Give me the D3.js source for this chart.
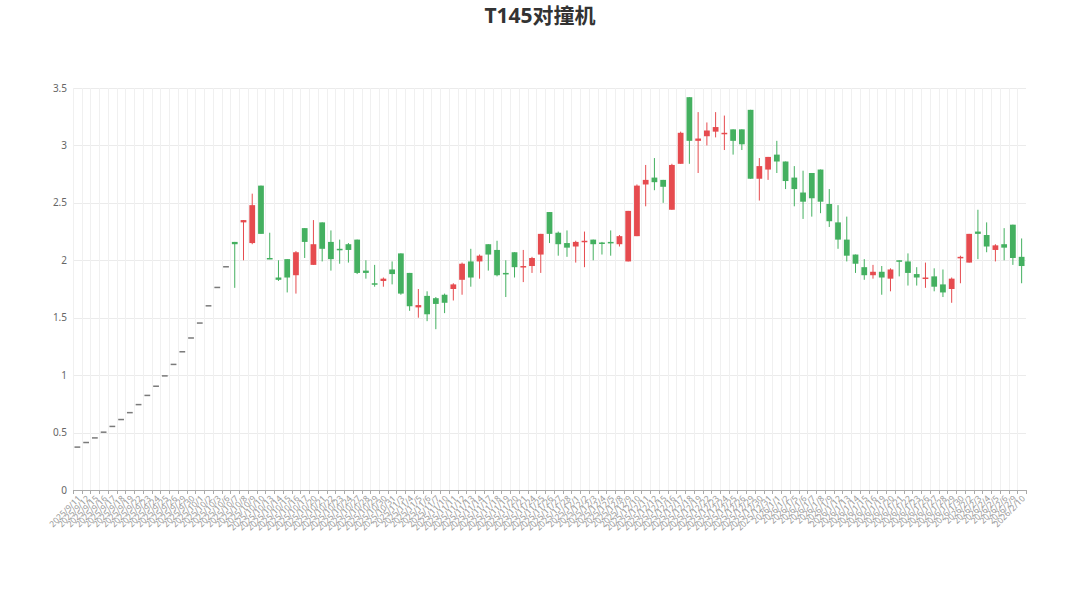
<!DOCTYPE html>
<meta charset="utf-8">
<script src="https://d3js.org/d3.v7.min.js"></script>
<style>
  body { margin: 0; background: #fff; }
  text { font-family: "Noto Sans", "Noto Sans CJK SC", sans-serif; }
</style>
<body>
<div id="chart"></div>
<script>

// trading days shown on the category axis
var dates = [
  "2025/9/11","2025/9/12","2025/9/15","2025/9/16","2025/9/17","2025/9/18","2025/9/19","2025/9/22","2025/9/23","2025/9/24",
  "2025/9/25","2025/9/26","2025/9/29","2025/9/30","2025/10/1","2025/10/2","2025/10/3","2025/10/6","2025/10/7","2025/10/8",
  "2025/10/9","2025/10/10","2025/10/13","2025/10/14","2025/10/15","2025/10/16","2025/10/17","2025/10/20","2025/10/21","2025/10/22",
  "2025/10/23","2025/10/24","2025/10/27","2025/10/28","2025/10/29","2025/10/30","2025/10/31","2025/11/3","2025/11/4","2025/11/5",
  "2025/11/6","2025/11/7","2025/11/10","2025/11/11","2025/11/12","2025/11/13","2025/11/14","2025/11/17","2025/11/18","2025/11/19",
  "2025/11/20","2025/11/21","2025/11/24","2025/11/25","2025/11/26","2025/11/27","2025/11/28","2025/12/1","2025/12/2","2025/12/3",
  "2025/12/4","2025/12/5","2025/12/8","2025/12/9","2025/12/10","2025/12/11","2025/12/12","2025/12/15","2025/12/16","2025/12/17",
  "2025/12/18","2025/12/19","2025/12/22","2025/12/23","2025/12/24","2025/12/25","2025/12/26","2025/12/29","2025/12/30","2025/12/31",
  "2026/1/1","2026/1/2","2026/1/5","2026/1/6","2026/1/7","2026/1/8","2026/1/9","2026/1/12","2026/1/13","2026/1/14",
  "2026/1/15","2026/1/16","2026/1/19","2026/1/20","2026/1/21","2026/1/22","2026/1/23","2026/1/26","2026/1/27","2026/1/28",
  "2026/1/29","2026/1/30","2026/2/2","2026/2/3","2026/2/4","2026/2/5","2026/2/6","2026/2/9","2026/2/10"
]

var opens = [
  0.38,0.42,0.46,0.51,0.56,0.62,0.68,0.75,0.83,0.91,
  1.00,1.10,1.21,1.33,1.46,1.61,1.77,1.95,2.16,2.33,
  2.15,2.65,2.02,1.85,2.01,1.87,2.28,1.96,2.33,2.16,
  2.10,2.14,2.18,1.91,1.80,1.82,1.92,2.06,1.89,1.59,
  1.69,1.67,1.70,1.75,1.83,1.99,1.99,2.14,2.09,1.89,
  2.07,1.94,1.95,2.05,2.42,2.24,2.15,2.12,2.16,2.18,
  2.155,2.16,2.14,1.99,2.21,2.66,2.72,2.70,2.44,2.84,
  3.42,3.04,3.08,3.12,3.10,3.14,3.14,3.31,2.71,2.79,
  2.92,2.86,2.72,2.59,2.76,2.79,2.49,2.33,2.18,2.05,
  1.94,1.87,1.90,1.84,2.00,1.99,1.88,1.84,1.86,1.79,
  1.75,2.02,1.98,2.25,2.22,2.09,2.14,2.31,2.03
]

var closes = [
  0.38,0.42,0.46,0.51,0.56,0.62,0.68,0.75,0.83,0.91,
  1.00,1.10,1.21,1.33,1.46,1.61,1.77,1.95,2.14,2.35,
  2.48,2.23,2.01,1.83,1.85,2.07,2.16,2.14,2.10,2.01,
  2.09,2.09,1.89,1.89,1.79,1.84,1.88,1.71,1.60,1.61,
  1.53,1.62,1.63,1.79,1.97,1.85,2.04,2.05,1.87,1.88,
  1.94,1.95,2.02,2.23,2.23,2.14,2.11,2.16,2.17,2.14,
  2.145,2.15,2.21,2.43,2.65,2.70,2.68,2.64,2.83,3.11,
  3.04,3.06,3.13,3.16,3.11,3.04,3.01,2.71,2.82,2.90,
  2.86,2.69,2.62,2.51,2.54,2.51,2.34,2.18,2.04,1.97,
  1.87,1.90,1.85,1.92,1.99,1.89,1.85,1.85,1.77,1.72,
  1.84,2.03,2.23,2.23,2.12,2.13,2.11,2.02,1.95
]

var lows = [
  0.38,0.42,0.46,0.51,0.56,0.62,0.68,0.75,0.83,0.91,
  1.00,1.10,1.21,1.33,1.46,1.61,1.77,1.95,1.76,2.00,
  2.14,2.23,2.01,1.82,1.72,1.71,2.02,1.96,1.99,1.91,
  1.97,1.98,1.88,1.84,1.77,1.77,1.79,1.70,1.56,1.50,
  1.47,1.40,1.54,1.65,1.70,1.77,1.84,1.91,1.86,1.68,
  1.85,1.81,1.89,1.89,2.15,2.04,2.03,1.98,1.94,2.00,
  2.05,2.04,2.12,1.99,2.21,2.47,2.61,2.50,2.44,2.84,
  2.84,2.76,3.00,3.07,2.96,2.92,2.96,2.71,2.52,2.70,
  2.76,2.62,2.47,2.36,2.38,2.41,2.29,2.10,1.99,1.89,
  1.83,1.84,1.70,1.73,1.86,1.78,1.78,1.76,1.73,1.68,
  1.63,1.80,1.98,2.01,2.07,1.99,2.00,1.96,1.80
]

var highs = [
  0.38,0.42,0.46,0.51,0.56,0.62,0.68,0.75,0.83,0.91,
  1.00,1.10,1.21,1.33,1.46,1.61,1.77,1.95,2.16,2.35,
  2.58,2.65,2.24,2.00,2.01,2.08,2.28,2.35,2.33,2.26,
  2.18,2.15,2.18,2.00,1.96,1.85,1.99,2.06,1.89,1.75,
  1.73,1.68,1.71,1.80,1.98,2.10,2.05,2.14,2.17,2.00,
  2.07,2.09,2.03,2.23,2.42,2.25,2.26,2.17,2.25,2.18,
  2.16,2.26,2.22,2.43,2.66,2.83,2.89,2.70,2.84,3.12,
  3.42,3.29,3.20,3.29,3.26,3.14,3.14,3.31,2.89,2.90,
  3.04,2.86,2.82,2.78,2.76,2.79,2.62,2.48,2.38,2.05,
  2.01,1.96,1.95,1.93,2.00,2.06,1.94,1.98,1.93,1.92,
  1.85,2.04,2.23,2.44,2.33,2.14,2.28,2.31,2.19
]

var yTicks = [0, 0.5, 1, 1.5, 2, 2.5, 3, 3.5]

var width = 1080, height = 596
var plotLeft = 73, plotRight = 1026, plotTop = 88, plotBottom = 490
var upColor = "#e64b4f", downColor = "#44b060", flatColor = "#7a7a7a"

var svg = d3.select("#chart").append("svg")
  .attr("width", width)
  .attr("height", height)

var x = d3.scaleBand().domain(dates).range([plotLeft, plotRight]).padding(0)
var y = d3.scaleLinear().domain([0, 3.5]).range([plotBottom, plotTop])

// title
svg.append("text")
  .attr("x", width / 2)
  .attr("y", 23)
  .attr("text-anchor", "middle")
  .style("font-size", "21px")
  .style("font-weight", "bold")
  .style("fill", "#333")
  .text("T145对撞机")

// horizontal grid
svg.append("g")
  .selectAll("line")
  .data(yTicks)
  .enter().append("line")
    .attr("x1", plotLeft).attr("x2", plotRight)
    .attr("y1", function(d){ return Math.round(y(d)) + 0.5 })
    .attr("y2", function(d){ return Math.round(y(d)) + 0.5 })
    .attr("stroke", "#ebebeb")

// vertical grid at category boundaries
svg.append("g")
  .selectAll("line")
  .data(dates)
  .enter().append("line")
    .attr("x1", function(d){ return Math.round(x(d)) + 0.5 })
    .attr("x2", function(d){ return Math.round(x(d)) + 0.5 })
    .attr("y1", plotTop).attr("y2", plotBottom)
    .attr("stroke", "#f0f0f0")

// y axis labels
svg.append("g")
  .selectAll("text")
  .data(yTicks)
  .enter().append("text")
    .attr("x", plotLeft - 6)
    .attr("y", function(d){ return y(d) })
    .attr("dy", "0.35em")
    .attr("text-anchor", "end")
    .style("font-size", "10px")
    .style("fill", "#666")
    .text(function(d){ return d })

// x axis line and ticks
svg.append("line")
  .attr("x1", plotLeft).attr("x2", plotRight)
  .attr("y1", plotBottom + 0.5).attr("y2", plotBottom + 0.5)
  .attr("stroke", "#aaa")

svg.append("g")
  .selectAll("line")
  .data(dates.concat(["end"]))
  .enter().append("line")
    .attr("x1", function(d, i){ return Math.round(plotLeft + i * x.bandwidth()) + 0.5 })
    .attr("x2", function(d, i){ return Math.round(plotLeft + i * x.bandwidth()) + 0.5 })
    .attr("y1", plotBottom).attr("y2", plotBottom + 4)
    .attr("stroke", "#aaa")

svg.append("g")
  .selectAll("text")
  .data(dates)
  .enter().append("text")
    .attr("transform", function(d){
      return "translate(" + (x(d) + x.bandwidth() / 2 + 2) + "," + (plotBottom + 7) + ") rotate(-45)"
    })
    .attr("text-anchor", "end")
    .attr("dy", "0.35em")
    .style("font-size", "8.5px")
    .style("fill", "#999")
    .text(function(d){ return d })

// candles
function colorOf(i) {
  if (closes[i] > opens[i]) return upColor
  if (closes[i] < opens[i]) return downColor
  return flatColor
}

var candles = svg.append("g")
  .selectAll("g")
  .data(dates)
  .enter().append("g")

candles.append("line")
  .attr("x1", function(d){ return x(d) + x.bandwidth() / 2 })
  .attr("x2", function(d){ return x(d) + x.bandwidth() / 2 })
  .attr("y1", function(d, i){ return y(highs[i]) })
  .attr("y2", function(d, i){ return y(lows[i]) })
  .attr("stroke", function(d, i){ return colorOf(i) })
  .attr("stroke-width", 1)

var bw = x.bandwidth() * 0.66
candles.append("rect")
  .attr("x", function(d){ return x(d) + (x.bandwidth() - bw) / 2 })
  .attr("width", bw)
  .attr("y", function(d, i){ return y(Math.max(opens[i], closes[i])) })
  .attr("height", function(d, i){ return Math.max(1.5, Math.abs(y(opens[i]) - y(closes[i]))) })
  .attr("fill", function(d, i){ return colorOf(i) })

</script>
</body>
